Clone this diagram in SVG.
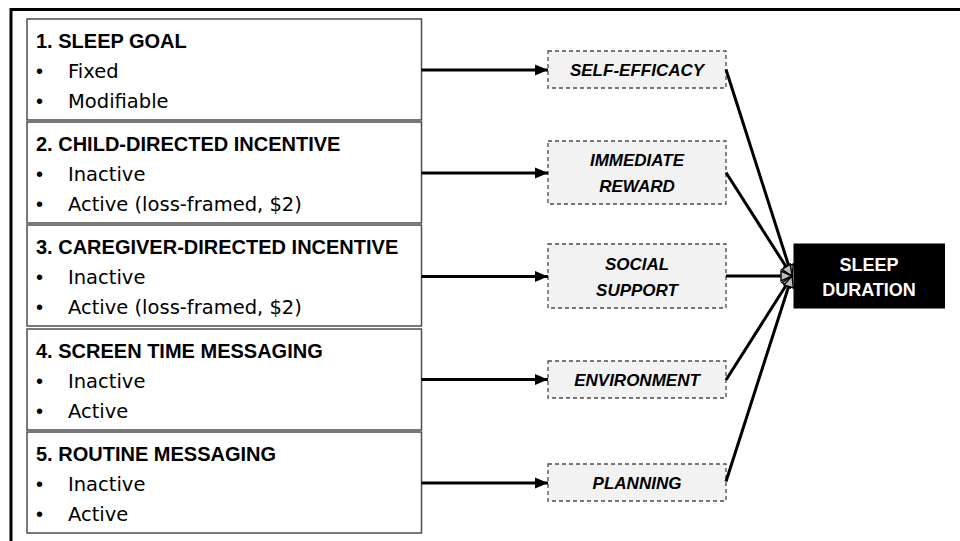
<svg xmlns="http://www.w3.org/2000/svg" width="960" height="541" viewBox="0 0 960 541">
  <style>
    .factor { fill: #ffffff; stroke: #4d4d4d; stroke-width: 1.5; }
    .title { font-family: "Liberation Sans", Arial, sans-serif; font-weight: bold; font-size: 20px; fill: #000; }
    .item { font-family: "DejaVu Sans", "Liberation Sans", sans-serif; font-size: 19.5px; fill: #000; }
    .bullet { font-family: "Liberation Sans", Arial, sans-serif; font-size: 20px; fill: #000; }
    .mech { fill: #f2f2f2; stroke: #4d4d4d; stroke-width: 1.3; stroke-dasharray: 4 3; }
    .mech-label { font-family: "Liberation Sans", Arial, sans-serif; font-weight: bold; font-style: italic; font-size: 17px; fill: #000; text-anchor: middle; }
    .outcome { fill: #000; }
    .outcome-label { font-family: "Liberation Sans", Arial, sans-serif; font-weight: bold; font-size: 18px; fill: #fff; text-anchor: middle; }
    .link { stroke: #000; stroke-width: 3; fill: none; }
    .to-mech { marker-end: url(#solid); }
    .to-outcome { marker-end: url(#open); }
  </style>
  <defs>
    <marker id="solid" markerUnits="userSpaceOnUse" markerWidth="14" markerHeight="12" refX="13" refY="6" orient="auto">
      <path d="M0,0.5 L13,6 L0,11.5 Z" fill="#000"/>
    </marker>
    <marker id="open" markerUnits="userSpaceOnUse" markerWidth="14" markerHeight="14" refX="12" refY="7" orient="auto">
      <path d="M1,2 L12,7 L1,12 Z" fill="#bfbfbf" stroke="#000" stroke-width="1.4" stroke-linejoin="miter"/>
    </marker>
  </defs>

  <rect width="960" height="541" fill="#ffffff"/>

  <!-- frame -->
  <path d="M11,541 L11,9.5 L960,9.5" fill="none" stroke="#000" stroke-width="3"/>

  <!-- intervention components -->
  <g id="sleep-goal">
    <rect class="factor" x="27" y="19" width="394.5" height="101"/>
    <text class="title" x="36" y="48">1. SLEEP GOAL</text>
    <text class="bullet" x="36" y="78">•</text>
    <text class="item" x="68" y="78">Fixed</text>
    <text class="bullet" x="36" y="108">•</text>
    <text class="item" x="68" y="108">Modifiable</text>
  </g>

  <g id="child-incentive">
    <rect class="factor" x="27" y="122" width="394.5" height="101"/>
    <text class="title" x="36" y="151">2. CHILD-DIRECTED INCENTIVE</text>
    <text class="bullet" x="36" y="181">•</text>
    <text class="item" x="68" y="181">Inactive</text>
    <text class="bullet" x="36" y="211">•</text>
    <text class="item" x="68" y="211">Active (loss-framed, $2)</text>
  </g>

  <g id="caregiver-incentive">
    <rect class="factor" x="27" y="225" width="394.5" height="101"/>
    <text class="title" x="36" y="254">3. CAREGIVER-DIRECTED INCENTIVE</text>
    <text class="bullet" x="36" y="284">•</text>
    <text class="item" x="68" y="284">Inactive</text>
    <text class="bullet" x="36" y="314">•</text>
    <text class="item" x="68" y="314">Active (loss-framed, $2)</text>
  </g>

  <g id="screen-time">
    <rect class="factor" x="27" y="329" width="394.5" height="101"/>
    <text class="title" x="36" y="358">4. SCREEN TIME MESSAGING</text>
    <text class="bullet" x="36" y="388">•</text>
    <text class="item" x="68" y="388">Inactive</text>
    <text class="bullet" x="36" y="418">•</text>
    <text class="item" x="68" y="418">Active</text>
  </g>

  <g id="routine">
    <rect class="factor" x="27" y="432" width="394.5" height="101"/>
    <text class="title" x="36" y="461">5. ROUTINE MESSAGING</text>
    <text class="bullet" x="36" y="491">•</text>
    <text class="item" x="68" y="491">Inactive</text>
    <text class="bullet" x="36" y="521">•</text>
    <text class="item" x="68" y="521">Active</text>
  </g>

  <!-- mechanisms -->
  <g id="self-efficacy">
    <rect class="mech" x="548" y="51" width="178" height="37"/>
    <text class="mech-label" x="637" y="76">SELF-EFFICACY</text>
  </g>

  <g id="immediate-reward">
    <rect class="mech" x="548" y="141" width="178" height="63"/>
    <text class="mech-label" x="637" y="166">IMMEDIATE</text>
    <text class="mech-label" x="637" y="192">REWARD</text>
  </g>

  <g id="social-support">
    <rect class="mech" x="548" y="244" width="178" height="64"/>
    <text class="mech-label" x="637" y="270">SOCIAL</text>
    <text class="mech-label" x="637" y="296">SUPPORT</text>
  </g>

  <g id="environment">
    <rect class="mech" x="548" y="361" width="178" height="37"/>
    <text class="mech-label" x="637" y="386">ENVIRONMENT</text>
  </g>

  <g id="planning">
    <rect class="mech" x="548" y="464" width="178" height="37"/>
    <text class="mech-label" x="637" y="489">PLANNING</text>
  </g>

  <!-- outcome -->
  <g id="sleep-duration">
    <rect class="outcome" x="793.5" y="243.5" width="151.5" height="65"/>
    <text class="outcome-label" x="869" y="271">SLEEP</text>
    <text class="outcome-label" x="869" y="296">DURATION</text>
  </g>

  <!-- connectors -->
  <g id="connectors">
    <line class="link to-mech" x1="421.5" y1="70" x2="548" y2="70"/>
    <line class="link to-mech" x1="421.5" y1="173" x2="548" y2="173"/>
    <line class="link to-mech" x1="421.5" y1="276.5" x2="548" y2="276.5"/>
    <line class="link to-mech" x1="421.5" y1="379.5" x2="548" y2="379.5"/>
    <line class="link to-mech" x1="421.5" y1="483" x2="548" y2="483"/>

    <line class="link to-outcome" x1="726" y1="69.5" x2="792" y2="276"/>
    <line class="link to-outcome" x1="726" y1="172.5" x2="792" y2="276"/>
    <line class="link to-outcome" x1="726" y1="380" x2="792" y2="276"/>
    <line class="link to-outcome" x1="726" y1="481.5" x2="792" y2="276"/>
    <line class="link to-outcome" x1="726" y1="276" x2="792" y2="276"/>
  </g>
</svg>
